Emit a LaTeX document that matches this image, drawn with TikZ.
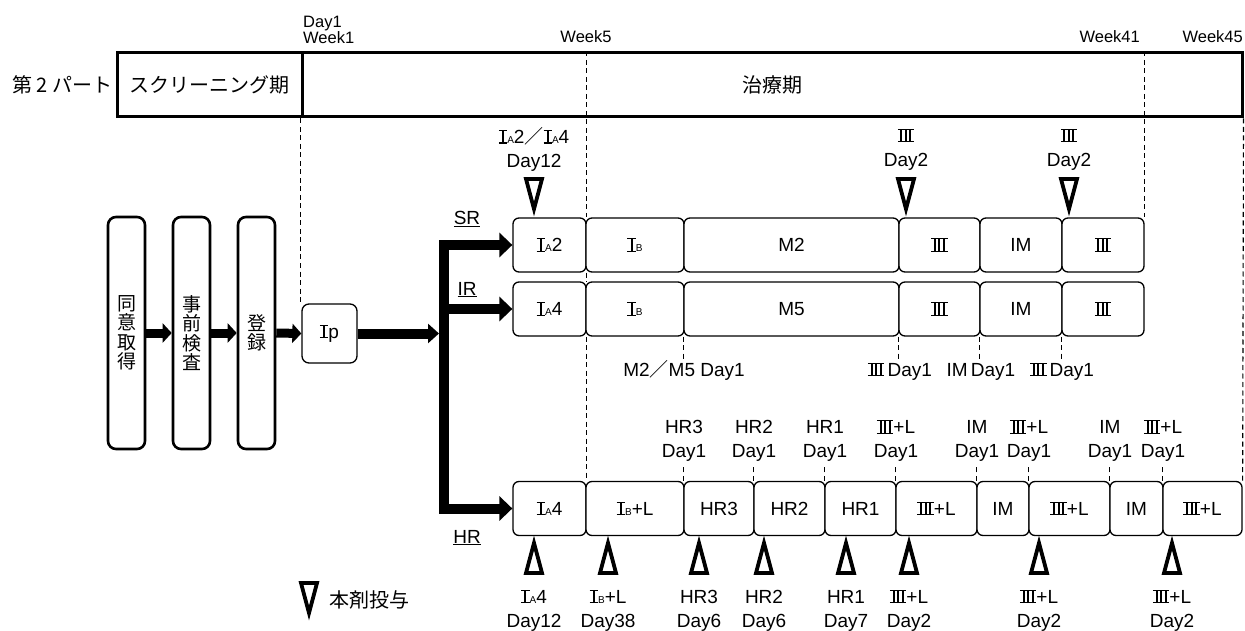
\documentclass[tikz,border=0pt]{standalone}
\usepackage{fontspec}
\setmainfont{Liberation Sans}
\newfontfamily\jp{Noto Sans CJK JP}
\usetikzlibrary{arrows.meta}
\newcommand\RI{\mbox{\rlap{\rule{8.5pt}{1.1pt}}\rlap{\raisebox{12.2pt}{\rule{8.5pt}{1.1pt}}}\hspace{3.2pt}\rule{2pt}{13.3pt}\hspace{3.3pt}}}
\newcommand\RIII{\mbox{\rlap{\rule{16.5pt}{1.1pt}}\rlap{\raisebox{12.2pt}{\rule{16.5pt}{1.1pt}}}\hspace{2.6pt}\rule{2pt}{13.3pt}\hspace{2.5pt}\rule{2pt}{13.3pt}\hspace{2.5pt}\rule{2pt}{13.3pt}\hspace{2.9pt}}}
\newcommand\sm[1]{{\fontsize{10}{10}\selectfont #1}}
\newcommand\fsl{{\jp ／}}
\newcommand\rowbox[5]{\node[rbox, minimum width={(#3-#2)*1pt}] (#1) at ({(#2+#3)/2},#4) {#5};}
\tikzset{
  rbox/.style={draw, line width=1.3pt, rounded corners=6pt, fill=white, minimum height=54pt, inner sep=0pt, anchor=center},
  vbox/.style={draw, line width=2.6pt, rounded corners=8pt, fill=white, minimum width=37pt, minimum height=232pt, inner sep=0pt, align=center, font=\jp\fontsize{19}{19.5}\selectfont},
  band/.style={draw, line width=3pt, minimum height=64pt, inner sep=0pt},
  guide/.style={line width=1.1pt, dash pattern=on 5pt off 3.5pt},
  fat/.style={line width=10pt, line join=miter, -{Triangle[length=13pt,width=24pt]}},
  mid/.style={line width=9pt, -{Triangle[length=9pt,width=19pt]}},
  lbl/.style={align=center, inner sep=0pt, font=\fontsize{19}{24}\selectfont},
  wk/.style={inner sep=0pt, font=\fontsize{16.5}{15}\selectfont},
  jlab/.style={inner sep=0pt, font=\jp\fontsize{20}{22}\selectfont},
  rlab/.style={inner sep=0pt, anchor=base, font=\fontsize{19}{20}\selectfont},
  tri/.style={line width=3.8pt, line join=miter, fill=white},
  downtri/.pic={\draw[tri] (-8,-36) -- (8,-36) -- (0,-6) -- cycle;},
  uptri/.pic={\draw[tri] (-8,36) -- (8,36) -- (0,6) -- cycle;}
}
\begin{document}
\begin{tikzpicture}[x=1pt, y=-1pt, font=\fontsize{19}{22}\selectfont]
\useasboundingbox (0,0) rectangle (1245,631);

% top band
\node[band, minimum width=185pt] (scr) at (209.5,85) {};
\node[band, minimum width=940pt] (trt) at (772,85) {};
\node[jlab] at (scr.center) {スクリーニング期};
\node[jlab] at (trt.center) {治療期};
\node[jlab, anchor=west] (part) at (12,85) {第 2 パート};

% week labels
\node[wk, anchor=west, align=left] (d1) at (303,30) {Day1\\Week1};
\node[wk] (w5) at (586,37) {Week5};
\node[wk, anchor=east] (w41) at (1140,37) {Week41};
\node[wk, anchor=east] (w45) at (1243,37) {Week45};

% left flow
\node[vbox] (b1) at (126.5,333) {同\\意\\取\\得};
\node[vbox] (b2) at (191.5,333) {事\\前\\検\\査};
\node[vbox] (b3) at (256.5,333) {登\\録};
\node[rbox, minimum width=55pt, minimum height=59pt, rounded corners=7pt] (ip) at (329.5,333.5) {\RI p};

% rows
\rowbox{sr1}{513}{586}{245}{\RI\sm{A}2}
\rowbox{sr2}{586}{684}{245}{\RI\sm{B}}
\rowbox{sr3}{684}{899}{245}{M2}
\rowbox{sr4}{899}{980}{245}{\RIII}
\rowbox{sr5}{980}{1062}{245}{IM}
\rowbox{sr6}{1062}{1144}{245}{\RIII}

\rowbox{ir1}{513}{586}{309}{\RI\sm{A}4}
\rowbox{ir2}{586}{684}{309}{\RI\sm{B}}
\rowbox{ir3}{684}{899}{309}{M5}
\rowbox{ir4}{899}{980}{309}{\RIII}
\rowbox{ir5}{980}{1062}{309}{IM}
\rowbox{ir6}{1062}{1144}{309}{\RIII}

\rowbox{hr1}{513}{586}{508.5}{\RI\sm{A}4}
\rowbox{hr2}{586}{684}{508.5}{\RI\sm{B}+L}
\rowbox{hr3}{684}{754}{508.5}{HR3}
\rowbox{hr4}{754}{825}{508.5}{HR2}
\rowbox{hr5}{825}{896}{508.5}{HR1}
\rowbox{hr6}{896}{977}{508.5}{\RIII+L}
\rowbox{hr7}{977}{1029}{508.5}{IM}
\rowbox{hr8}{1029}{1110}{508.5}{\RIII+L}
\rowbox{hr9}{1110}{1163}{508.5}{IM}
\rowbox{hr10}{1163}{1242}{508.5}{\RIII+L}

% guide lines
\draw[guide] (trt.south west) -- (trt.south west |- ip.north);
\draw[guide] (sr1.north east |- trt.north) -- (sr1.north east);
\draw[guide] (sr1.south east) -- (ir1.north east);
\draw[guide] (ir1.south east) -- (hr1.north east);
\draw[guide] (sr6.north east |- trt.north) -- (sr6.north east);
\draw[guide] (trt.south east) -- (hr10.north east);
\foreach \n in {ir3,ir4,ir5,ir6} \draw[guide] (\n.south west) -- ++(0,22);
\foreach \n in {hr3,hr4,hr5,hr6,hr7,hr8,hr9,hr10} \draw[guide] (\n.north west) -- ++(0,-16);

% redraw band borders on top
\node[band, minimum width=185pt] (scrb) at (209.5,85) {};
\node[band, minimum width=940pt] (trtb) at (772,85) {};

% arrows
\draw[mid] (b1.east) -- (b2.west);
\draw[mid] (b2.east) -- (b3.west);
\draw[mid] (b3.east) -- (ip.west);
\coordinate (bt) at (444,245);
\coordinate (bb) at (444,508.5);
\coordinate (bin) at (439,333.5);
\draw[fat, -{Triangle[length=11pt,width=19pt]}] (ip.east) -- (bin);
\draw[fat] (bb) -- (bt) -- (sr1.west);
\draw[fat] (bt) -- (bb) -- (hr1.west);
\draw[fat] (bt |- ir1.west) -- (ir1.west);

% group labels
\node[rlab] (srl) at (467,225) {\underline{SR}};
\node[rlab] (irl) at (467,295) {\underline{IR}};
\node[rlab] (hrl) at (467,543) {\underline{HR}};

% SR top markers
\node[lbl] (t1) at (534,149.5) {\RI\sm{A}2\fsl\RI\sm{A}4\\Day12};
\node[lbl] (t2) at (906,149.5) {\RIII\\Day2};
\node[lbl] (t3) at (1069,149.5) {\RIII\\Day2};
\pic at (534,215) {downtri};
\pic at (906,215) {downtri};
\pic at (1069,215) {downtri};

% IR bottom labels
\node[rlab] (m25) at (684,376) {M2\fsl M5 Day1};
\node[rlab] (l4) at (900,376) {\RIII\,Day1};
\node[rlab] (l5) at (981,376) {IM\,Day1};
\node[rlab] (l6) at (1062,376) {\RIII\,Day1};

% HR top labels
\node[lbl] at (684,441) {HR3\\Day1};
\node[lbl] at (754,441) {HR2\\Day1};
\node[lbl] at (825,441) {HR1\\Day1};
\node[lbl] at (896,441) {\RIII+L\\Day1};
\node[lbl] at (977,441) {IM\\Day1};
\node[lbl] at (1029,441) {\RIII+L\\Day1};
\node[lbl] at (1110,441) {IM\\Day1};
\node[lbl] at (1163,441) {\RIII+L\\Day1};

% HR bottom markers
\foreach \x in {534,608,699,764,846,909,1039,1172} \pic at (\x,537) {uptri};
\node[lbl] at (534,610.5) {\RI\sm{A}4\\Day12};
\node[lbl] at (608,610.5) {\RI\sm{B}+L\\Day38};
\node[lbl] at (699,610.5) {HR3\\Day6};
\node[lbl] at (764,610.5) {HR2\\Day6};
\node[lbl] at (846,610.5) {HR1\\Day7};
\node[lbl] at (909,610.5) {\RIII+L\\Day2};
\node[lbl] at (1039,610.5) {\RIII+L\\Day2};
\node[lbl] at (1172,610.5) {\RIII+L\\Day2};

% legend
\pic at (309,619) {downtri};
\node[jlab, anchor=west] (leg) at (329,600) {本剤投与};
\end{tikzpicture}
\end{document}
